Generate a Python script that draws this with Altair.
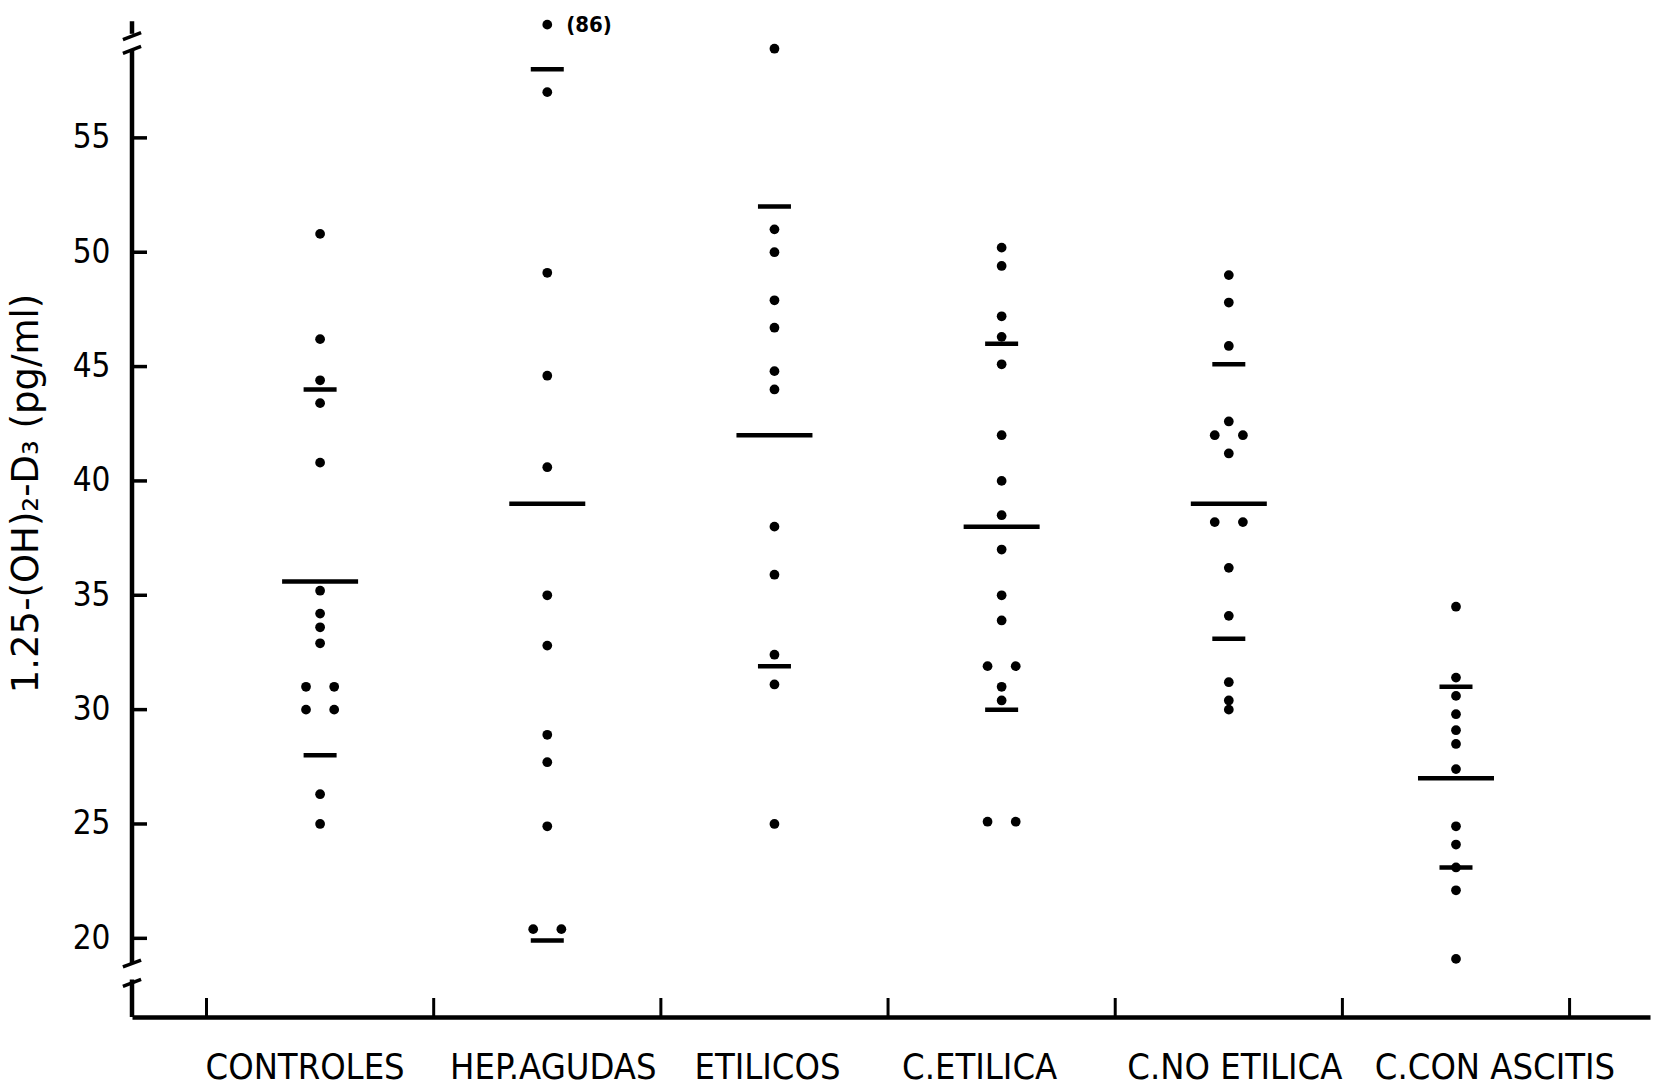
import json
import altair as alt
import pandas as pd

# ---------------- data ----------------
categories = ["CONTROLES", "HEP.AGUDAS", "ETILICOS", "C.ETILICA", "C.NO ETILICA", "C.CON ASCITIS"]

controles = [50.8, 46.2, 44.4, 43.4, 40.8, 35.2, 34.2, 33.6, 32.9, 31.0, 31.0, 30.0, 30.0, 26.3, 25.0]
hep_agudas = [86, 57.0, 49.1, 44.6, 40.6, 35.0, 32.8, 28.9, 27.7, 24.9, 20.4, 20.4]
etilicos = [58.9, 51.0, 50.0, 47.9, 46.7, 44.8, 44.0, 38.0, 35.9, 32.4, 31.1, 25.0]
c_etilica = [50.2, 49.4, 47.2, 46.3, 45.1, 42.0, 40.0, 38.5, 37.0, 35.0, 33.9, 31.9, 31.9,
             31.0, 30.4, 25.1, 25.1]
c_no_etilica = [49.0, 47.8, 45.9, 42.6, 42.0, 42.0, 41.2, 38.2, 38.2, 36.2, 34.1, 31.2, 30.4, 30.0]
c_con_ascitis = [34.5, 31.4, 30.6, 29.8, 29.1, 28.5, 27.4, 24.9, 24.1, 23.1, 22.1, 19.1]

means = [35.6, 39.0, 42.0, 38.0, 39.0, 27.0]
sd_high = [44.0, 58.0, 52.0, 46.0, 45.1, 31.0]
sd_low = [28.0, 19.9, 31.9, 30.0, 33.1, 23.1]

y_tick_values = [20, 25, 30, 35, 40, 45, 50, 55]
group_boundaries = [-0.5, 0.5, 1.5, 2.5, 3.5, 4.5, 5.5]

# axis break (values above the top break are drawn at the break and labelled)
y_min, y_max = 16.56, 60.81
top_break_value = 59.95
axis_segments_lo = [y_min, 18.9, 59.55]
axis_segments_hi = [18.2, 58.85, 60.1]
break_marks = [18.05, 18.9, 58.85, 59.45]

# ---------------- layout / style constants ----------------
W, H = 1518, 1012
X_DOMAIN = [-0.828, 5.854]
STEP_PX = W / (X_DOMAIN[1] - X_DOMAIN[0])
PAIR_GAP = 0.062          # horizontal separation of coincident points (x units)
LABEL_NUDGE_PX = [-15, 6, -7, -22, 6, 39]   # typewritten label placement under each group
FONT = "DejaVu Sans Condensed, Liberation Sans Narrow, DejaVu Sans, sans-serif"
TITLE_FONT = "DejaVu Sans, sans-serif"

groups = [controles, hep_agudas, etilicos, c_etilica, c_no_etilica, c_con_ascitis]
rows = []
for i, vals in enumerate(groups):
    counts = {}
    for v in vals:
        counts[v] = counts.get(v, 0) + 1
    seen = {}
    for v in vals:
        k = seen.get(v, 0)
        seen[v] = k + 1
        side = 0 if counts[v] == 1 else (-1 if k == 0 else 1)
        rows.append({
            "group": categories[i],
            "idx": i,
            "value": v,
            "x": i + side * PAIR_GAP,
            "y": min(v, top_break_value),
            "label": f"({int(round(v))})" if v > top_break_value else "",
        })
pts = pd.DataFrame(rows)

stats = pd.DataFrame({"idx": list(range(len(categories))), "group": categories,
                      "mean": means, "hi": sd_high, "lo": sd_low})

cat_labels = pd.DataFrame({
    "group": categories,
    "lx": [i + LABEL_NUDGE_PX[i] / STEP_PX for i in range(len(categories))],
})

x_scale = alt.Scale(domain=X_DOMAIN, nice=False, zero=False)
y_scale = alt.Scale(domain=[y_min, y_max], nice=False, zero=False)

x_axis = alt.Axis(values=list(range(len(categories))), labels=False, ticks=False, tickSize=0,
                  grid=False, domain=True, domainWidth=4.5, domainColor="black", title=None)
y_axis = alt.Axis(values=y_tick_values, ticks=False, tickSize=0, grid=False, domain=False,
                  labelFont=FONT, labelFontSize=33, labelColor="black", labelPadding=22,
                  title="1.25-(OH)₂-D₃ (pg/ml)", titleFont=TITLE_FONT, titleFontSize=37,
                  titleFontWeight="normal", titleColor="black", titleX=-87, titleY=488,
                  titleAlign="center", titleBaseline="bottom", titleAngle=-90, titleLimit=0)

points = alt.Chart(pts).mark_circle(size=95, color="black", opacity=1).encode(
    x=alt.X("x:Q", scale=x_scale, axis=x_axis),
    y=alt.Y("y:Q", scale=y_scale, axis=y_axis),
)

over_label = alt.Chart(pts).transform_filter("datum.label != ''").mark_text(
    align="left", baseline="middle", dx=19, font=FONT, fontSize=22, fontWeight="bold", color="black"
).encode(x=alt.X("x:Q", scale=x_scale), y=alt.Y("y:Q", scale=y_scale), text="label:N")

group_text = alt.Chart(cat_labels).mark_text(
    align="center", baseline="top", font=FONT, fontSize=36, color="black"
).encode(x=alt.X("lx:Q", scale=x_scale), y=alt.value(H + 34), text="group:N")

mean_ticks = alt.Chart(stats).mark_tick(orient="horizontal", size=76, thickness=4.5, color="black",
                                        opacity=1).encode(
    x=alt.X("idx:Q", scale=x_scale), y=alt.Y("mean:Q", scale=y_scale))
sd_hi_ticks = alt.Chart(stats).mark_tick(orient="horizontal", size=33, thickness=4.5, color="black",
                                         opacity=1).encode(
    x=alt.X("idx:Q", scale=x_scale), y=alt.Y("hi:Q", scale=y_scale))
sd_lo_ticks = alt.Chart(stats).mark_tick(orient="horizontal", size=33, thickness=4.5, color="black",
                                         opacity=1).encode(
    x=alt.X("idx:Q", scale=x_scale), y=alt.Y("lo:Q", scale=y_scale))

seg_df = pd.DataFrame({"lo": axis_segments_lo, "hi": axis_segments_hi})
y_axis_line = alt.Chart(seg_df).mark_rule(color="black", strokeWidth=4.5).encode(
    x=alt.value(0), y=alt.Y("lo:Q", scale=y_scale), y2="hi:Q")

breaks = alt.Chart(pd.DataFrame({"v": break_marks})).mark_point(
    shape="M -1 0.38 L 1 -0.38", filled=False, stroke="black", strokeWidth=3.5, size=330, opacity=1
).encode(x=alt.value(0), y=alt.Y("v:Q", scale=y_scale))

y_ticks = alt.Chart(pd.DataFrame({"v": y_tick_values})).mark_rule(color="black", strokeWidth=3.5).encode(
    y=alt.Y("v:Q", scale=y_scale), x=alt.value(0), x2=alt.value(15))

x_ticks = alt.Chart(pd.DataFrame({"b": group_boundaries})).mark_rule(color="black", strokeWidth=3).encode(
    x=alt.X("b:Q", scale=x_scale), y=alt.value(H), y2=alt.value(H - 19))

chart = alt.layer(
    points, mean_ticks, sd_hi_ticks, sd_lo_ticks, over_label, group_text,
    y_axis_line, breaks, y_ticks, x_ticks,
).properties(
    width=W, height=H,
    autosize=alt.AutoSizeParams(type="none"),
    padding={"left": 132, "top": 5, "right": 4, "bottom": 71},
    background="white",
).configure_view(stroke=None)

chart.save("out.html", embed_options={"renderer": "svg", "actions": False})
